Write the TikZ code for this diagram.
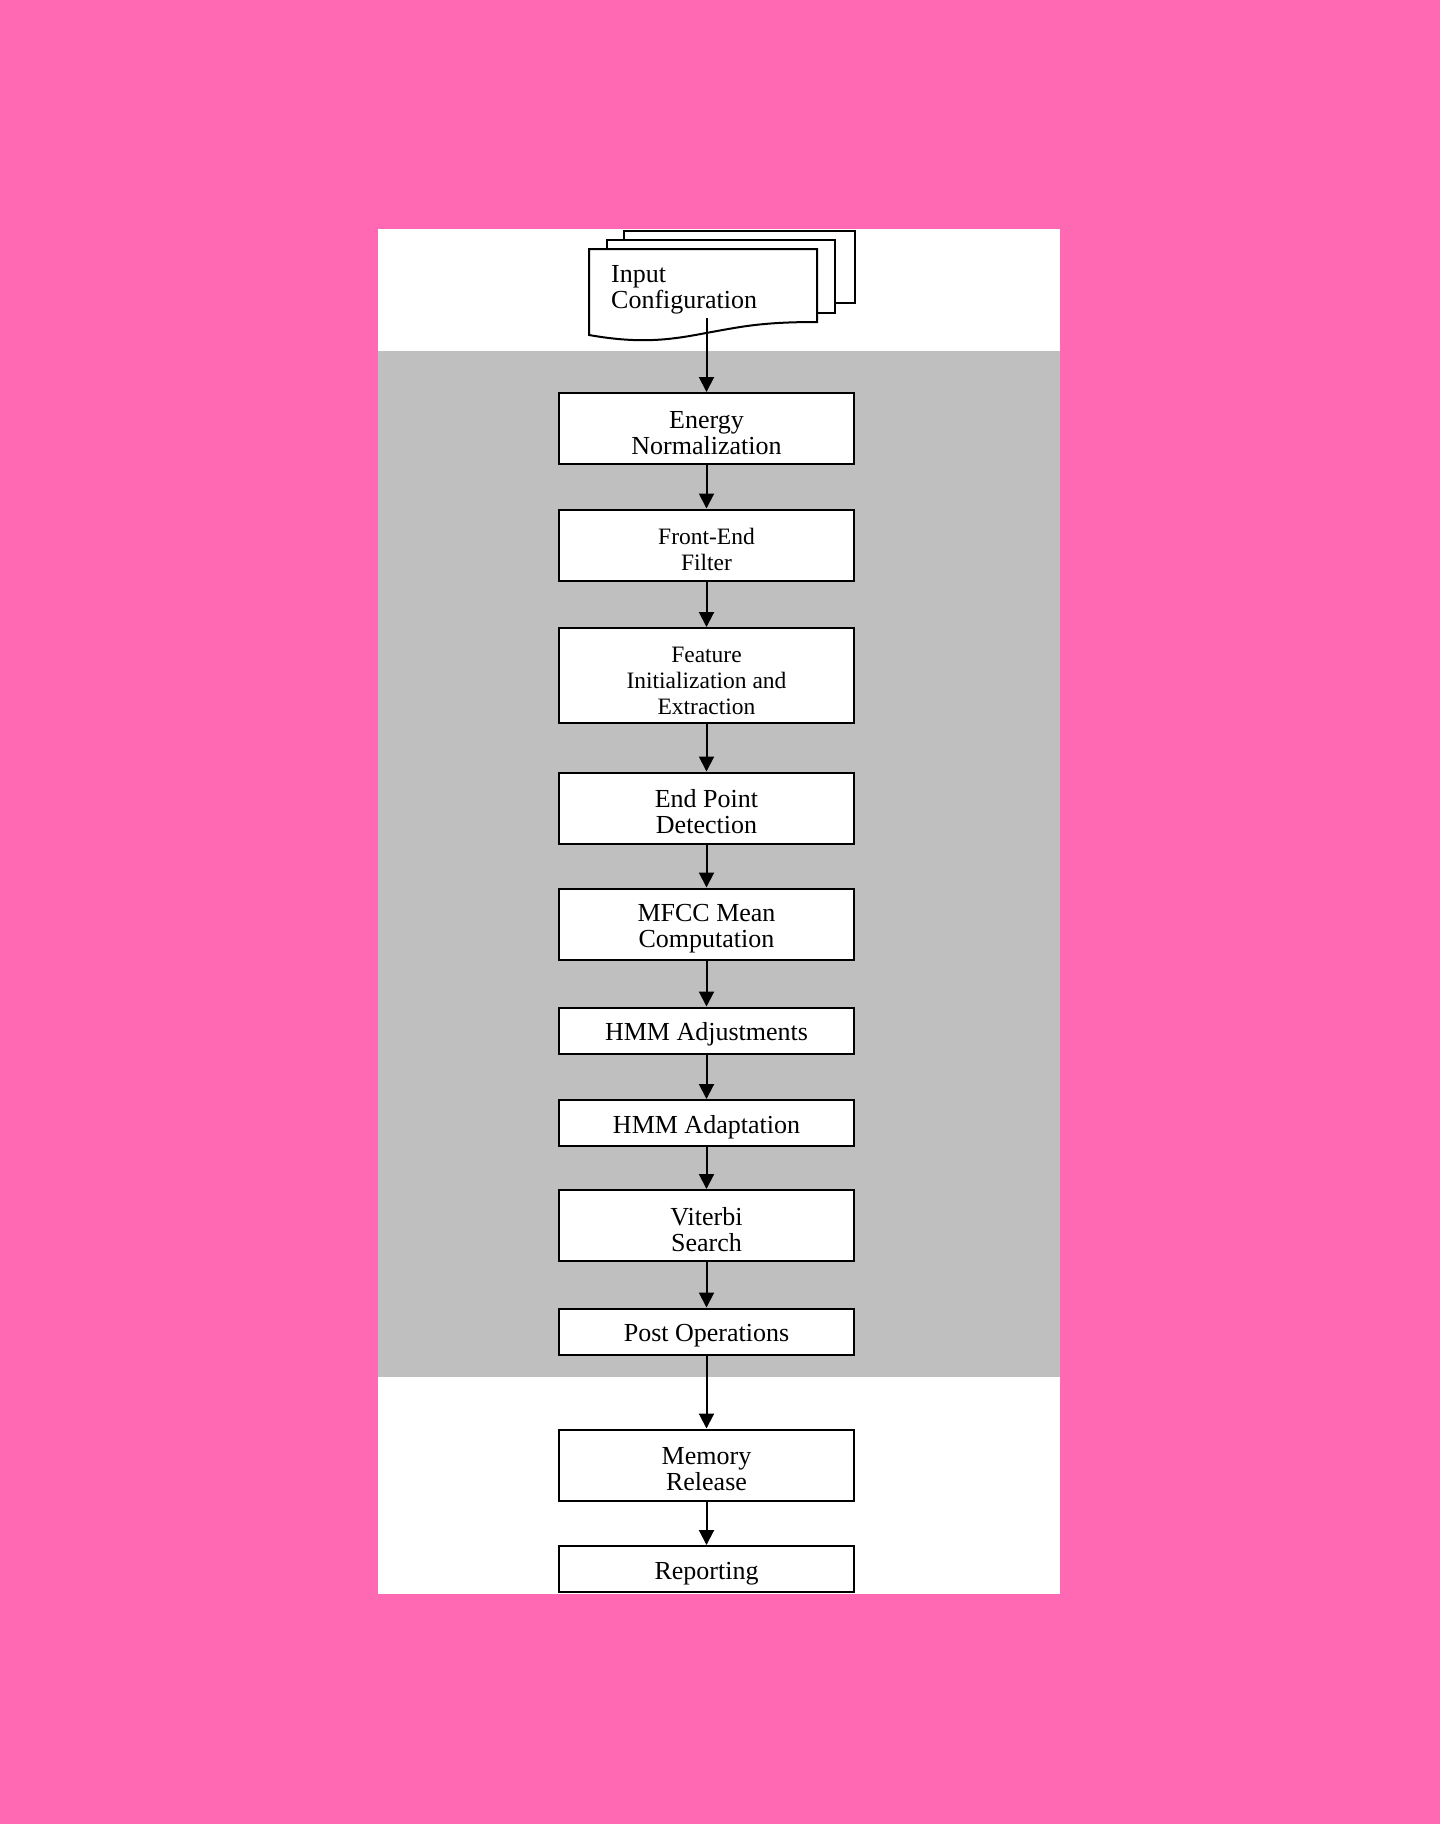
\documentclass[tikz,border=0pt]{standalone}
\usepackage{fontspec}
\setmainfont{Liberation Serif}
\usetikzlibrary{arrows.meta}
\definecolor{rosa}{RGB}{255,105,180}
\definecolor{grau}{RGB}{191,191,191}
\newcommand{\stuetze}{\rule{0pt}{26pt}}
\tikzset{
  stufe/.style={draw, line width=2pt, fill=white, minimum width=295pt, minimum height=71pt,
    inner sep=0pt, align=center, font=\fontsize{26}{26}\selectfont},
  stufeklein/.style={stufe, font=\fontsize{23.5}{26}\selectfont},
  pfeil/.style={-{Triangle[width=15pt,length=15pt]}, line width=2pt},
}
\begin{document}
\begin{tikzpicture}[x=1pt,y=-1pt]
  % Hintergrund
  \fill[rosa] (0,0) rectangle (1440,1824);
  \fill[white] (378,229) rectangle (1060,1594);
  \fill[grau] (378,351) rectangle (1060,1377);

  % Eingabe (Dokumentstapel)
  \draw[line width=2pt, fill=white] (624,231) rectangle (855,303);
  \draw[line width=2pt, fill=white] (607,240) rectangle (835,313);
  \draw[line width=2pt, fill=white] (589,335) -- (589,249) -- (817,249) -- (817,322)
    .. controls (760,322) and (740,327) .. (706,333)
    .. controls (670,340) and (640,344) .. cycle;
  \node[anchor=north west, inner sep=0pt, align=left, font=\fontsize{26}{26}\selectfont]
    (eingabe) at (611,265) {Input\\Configuration};
  \coordinate (ausgang) at (706.5,318);

  % Verarbeitungsschritte
  \node[stufe] (energie) at (706.5,428.5) {\stuetze Energy\\Normalization};
  \node[stufeklein] (filter) at (706.5,545) {\stuetze Front-End\\Filter};
  \node[stufeklein, minimum height=95pt] (merkmal) at (706.5,675.5) {\stuetze Feature\\Initialization and\\Extraction};
  \node[stufe] (endpunkt) at (706.5,808) {\stuetze End Point\\Detection};
  \node[stufe] (mfcc) at (706.5,924) {\stuetze MFCC Mean\\Computation};
  \node[stufe, minimum height=46pt] (hmmanp) at (706.5,1030.5) {\stuetze HMM Adjustments};
  \node[stufe, minimum height=46pt] (hmmadapt) at (706.5,1123) {\stuetze HMM Adaptation};
  \node[stufe] (viterbi) at (706.5,1225.5) {\stuetze Viterbi\\Search};
  \node[stufe, minimum height=46pt] (nachbear) at (706.5,1331.5) {\stuetze Post Operations};

  % Abschluss
  \node[stufe] (speicher) at (706.5,1465) {\stuetze Memory\\Release};
  \node[stufe, minimum height=46pt] (bericht) at (706.5,1569) {\stuetze Reporting};

  % Verbindungen
  \draw[pfeil] (ausgang) -- (energie);
  \foreach \a/\b in {energie/filter, filter/merkmal, merkmal/endpunkt, endpunkt/mfcc,
    mfcc/hmmanp, hmmanp/hmmadapt, hmmadapt/viterbi, viterbi/nachbear,
    nachbear/speicher, speicher/bericht}
    \draw[pfeil] (\a) -- (\b);
\end{tikzpicture}
\end{document}
